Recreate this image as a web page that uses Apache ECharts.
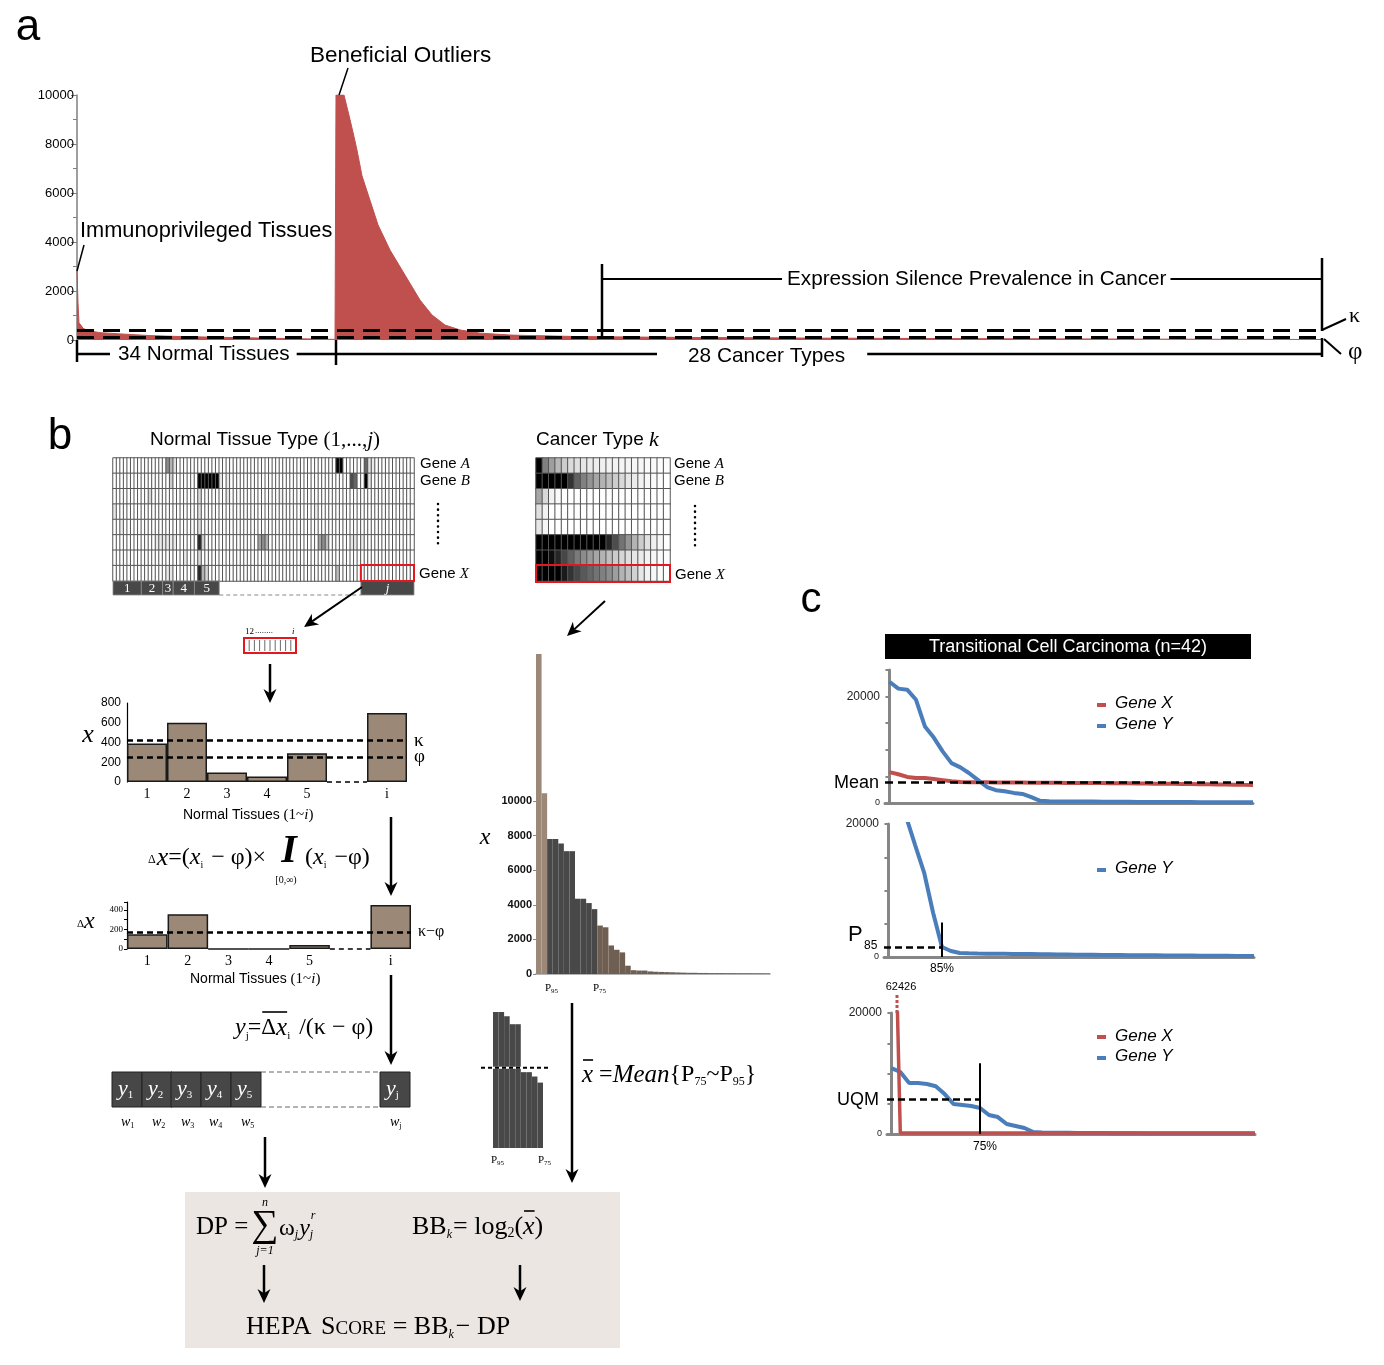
<!DOCTYPE html>
<html><head><meta charset="utf-8">
<script src="https://cdn.jsdelivr.net/npm/echarts@6/dist/echarts.min.js"></script>
<style>html,body{margin:0;padding:0;background:#fff}#c{width:1384px;height:1365px}</style>
</head><body><div id="c"></div>
<script>
// ===== DATA =====
// panel a: sorted expression profile (sample rank -> expression)
const normalRank = [0,2,4,8,12,22,46,86,146,206,286,366,446,516];
const normalExpr = [2850,1500,700,600,480,380,300,250,180,140,110,80,50,25];
const cancerRank = [518,534,540,546,554,560,570,586,602,626,656,686,710,736,766,806,868,1000,1178,1446,1846,2490];
const cancerExpr = [10000,10000,9500,9000,8300,7750,6700,5700,4700,3670,2650,1630,1020,610,410,280,200,140,110,80,50,20];
const totalRank = 2490;
const kappaA = 408, phiA = 122;
// panel b: heatmaps
const normalCols = 85;
const heatRows = ['Gene A','Gene B','g3','g4','g5','g6','g7','Gene X'];
const normalHeatSpots = [
 [15,0,0.45],[16,0,0.3],[17,0,0.12],[63,0,1],[64,0,1],[71,0,0.6],[72,0,0.12],[73,0,0.08],
 [16,1,0.2],[24,1,1],[25,1,1],[26,1,1],[27,1,1],[28,1,1],[29,1,1],[30,1,0.1],[32,1,0.08],[67,1,0.7],[68,1,0.6],[71,1,1],[72,1,0.1],
 [10,2,0.15],[24,2,0.15],[32,2,0.1],[47,2,0.06],
 [0,3,0.1],[24,3,0.12],[57,3,0.06],
 [2,4,0.08],[24,4,0.12],
 [12,5,0.08],[13,5,0.08],[14,5,0.08],[15,5,0.08],[16,5,0.08],[17,5,0.08],[24,5,0.85],[25,5,0.2],[41,5,0.35],[42,5,0.45],[43,5,0.3],[58,5,0.35],[59,5,0.45],[60,5,0.25],[67,5,0.1],[68,5,0.1],[70,5,0.08],
 [20,6,0.08],[24,6,0.15],
 [15,7,0.08],[16,7,0.1],[24,7,0.85],[25,7,0.3],[26,7,0.15],[63,7,0.25]
];
const tissueSegCols = [0,8,14,17,23,30];
const tissueSegLabels = ['1','2','3','4','5'];
const tissueJCols = [70,85];
const cancerHeat = [
 [1,0.5,0.38,0.28,0.2,0.14,0.12,0.1,0.08,0.07,0.06,0.05,0.05,0.04,0.04,0.03,0.03,0.02,0.02,0.01,0.01],
 [1,1,1,1,1,0.8,0.62,0.5,0.42,0.35,0.3,0.25,0.2,0.15,0.1,0.08,0.05,0.03,0.02,0.01,0],
 [0.35,0.15,0.05,0.02,0,0,0,0,0,0,0,0,0,0,0,0,0,0,0,0,0],
 [0.12,0.05,0,0,0,0,0,0,0,0,0,0,0,0,0,0,0,0,0,0,0],
 [0.1,0.04,0,0,0,0,0,0,0,0,0,0,0,0,0,0,0,0,0,0,0],
 [1,1,1,1,1,1,1,1,1,1,1,0.85,0.7,0.55,0.42,0.3,0.2,0.12,0.06,0.03,0],
 [1,1,0.95,0.85,0.72,0.62,0.52,0.45,0.4,0.35,0.3,0.25,0.2,0.16,0.13,0.1,0.08,0.05,0.03,0.02,0.01],
 [1,1,1,1,0.9,0.8,0.72,0.65,0.6,0.55,0.5,0.45,0.38,0.3,0.25,0.18,0.1,0.05,0.03,0.01,0]
];
// panel b: bar charts
const tissueLabels = ['1','2','3','4','5','','i'];
const xValues = [390,600,95,55,290,'-',700];
const kappaB = 420, phiB = 255;
const dxValues = [150,355,0,0,40,'-',450];
const kappaMinusPhi = 175;
const cancerSorted = [18500,10450,7800,7800,7550,7100,7100,4350,4350,4100,3750,2800,2700,1650,1400,1250,480,220,200,200,150,130,120,110,100,90,80,70,70,60,60,50,50,50,45,45,40,40,40,35,35,30];
const p95Idx = 2, p75Idx = 11;
const meanP75P95 = 4600;
// panel c
const c1GeneX = [5800,5400,4900,4700,4700,4500,4300,4100,3950,3900,3900,3880,3860,3850,3840,3830,3820,3810,3800,3790,3780,3770,3760,3750,3740,3720,3700,3690,3680,3660,3640,3620,3600,3580,3560,3540,3520,3500,3480,3450,3420,3400];
const c1GeneY = [22800,21500,21300,19400,14400,12300,9700,7500,6700,5600,4300,3000,2400,2200,1900,1700,1100,400,320,300,290,280,270,260,250,240,230,220,210,200,190,180,175,170,165,160,155,150,145,140,135,130];
const c1Mean = 3900;
const c2GeneY = [35000,28000,21000,16800,12700,6700,1500,900,600,550,520,500,480,470,460,450,440,420,400,380,360,340,330,320,310,300,290,280,270,260,250,240,230,220,210,200,190,180,170,160,155,150];
const c2P85 = 1500, c2P85Idx = 6, c2VTop = 5200;
const c3GeneX = [62426,160,155,150,150,150,150,150,150,150,150,150,150,150,150,150,150,150,150,150,150,150,150,150,150,150,150,150,150,150,150,150,150,150,150,150,150,150,150,150,150,150];
const c3GeneY = [10900,10250,8430,8430,8260,7900,6600,4960,4800,4630,4300,3140,2800,1650,1320,990,330,250,220,200,190,180,170,160,150,140,130,120,110,100,100,100,90,90,90,80,80,80,70,70,70,60];
const c3UQM = 5780, c3Q75Idx = 10, c3VTop = 11700;

// ===== helpers =====
const SANS = '"Liberation Sans", Arial, sans-serif';
const SERIF = '"Liberation Serif", "Times New Roman", serif';
const RED = '#c0504d', BLUE = '#4a7ebb';
const mctx = document.createElement('canvas').getContext('2d');
const G = [];
function T(x,y,s,size,f='',align='left',va='middle'){
  const font=(f.includes('i')?'italic ':'')+(f.includes('b')?'bold ':'')+size+'px '+(f.includes('s')?SERIF:SANS);
  G.push({type:'text',x,y,z:120,silent:true,style:{text:s,font,fill:f.includes('w')?'#fff':'#000',align,verticalAlign:va,textAlign:align,textVerticalAlign:va}});
  mctx.font=font; return mctx.measureText(s).width;
}
function S(x,y,parts){ let cx=x; for(const p of parts){ const [s,size,f='',dx=0,dy=0]=p; cx+=dx; cx+=T(cx,y+dy,s,size,f);} return cx; }
function L(x1,y1,x2,y2,w=2,c='#000',dash=null,cap='butt'){ G.push({type:'line',z:110,silent:true,shape:{x1,y1,x2,y2},style:{stroke:c,lineWidth:w,lineDash:dash,lineCap:cap}}); }
function R(x,y,w,h,fill,stroke=null,lw=1,z=100){ G.push({type:'rect',z,silent:true,shape:{x,y,width:w,height:h},style:{fill:fill||'none',stroke,lineWidth:lw}}); }
function A(x1,y1,x2,y2,w=2.5,hl=14,hw=6.5){
  const dx=x2-x1,dy=y2-y1,len=Math.hypot(dx,dy),ux=dx/len,uy=dy/len;
  const bx=x2-ux*hl,by=y2-uy*hl,nx=bx+ux*hl*0.3,ny=by+uy*hl*0.3;
  L(x1,y1,nx,ny,w);
  G.push({type:'polygon',z:111,silent:true,shape:{points:[[x2,y2],[bx-uy*hw,by+ux*hw],[nx,ny],[bx+uy*hw,by-ux*hw]]},style:{fill:'#000'}});
}

// ===== panel a annotations =====
T(28,28,'a',44,'','center');
T(310,56,'Beneficial Outliers',22.5); L(348,68,339,95,1.5);
T(80,231,'Immunoprivileged Tissues',21.8); L(84,245,77,271,1.5);
L(602,264,602,337,2.5); L(602,279,782,279,2);
{ const w=T(787,279,'Expression Silence Prevalence in Cancer',20.7); L(787+w+4,279,1322,279,2); }
L(1322,258,1322,331,2.5);
L(77,340,77,362,2.5); L(77,354,110,354,2.5);
{ const w=T(118,354,'34 Normal Tissues',20.7); L(118+w+7,354,336,354,2.5); }
L(336,340,336,365,2.5); L(336,354,657,354,2.5);
{ const w=T(688,356,'28 Cancer Types',20.8); L(688+w+22,354,1322,354,2.5); }
L(1322,338,1322,357,2.5);
L(1322,330,1346,319,2); T(1349,316,'κ',22,'s');
L(1324,339,1341,354,2); T(1348,352,'φ',25,'s');

// ===== panel b annotations =====
T(60,437,'b',44,'','center');
S(150,440,[['Normal Tissue Type ',19],['(1,...,',21,'s'],['j',21,'si'],[')',21,'s']]);
S(536,440,[['Cancer Type ',19],['k',22,'si']]);
const hx0=113, hw=301/normalCols;
tissueSegLabels.forEach((lab,i)=>{ const a=hx0+tissueSegCols[i]*hw, b=hx0+tissueSegCols[i+1]*hw; R(a,581,b-a,14,'#484848','#8a8a8a',0.8); T((a+b)/2,588.5,lab,13,'sw','center'); });
{ const a=hx0+tissueJCols[0]*hw, b=hx0+tissueJCols[1]*hw; R(a,581,b-a,14,'#484848','#8a8a8a',0.8); T((a+b)/2,588.5,'j',13,'siw','center');
  L(hx0+tissueSegCols[5]*hw,595,a,595,1,'#888',[4,3]); R(a,565,b-a,16,'none','#e3171d',2); }
S(420,464,[['Gene ',15],['A',15,'si']]); S(420,481,[['Gene ',15],['B',15,'si']]);
L(438,504,438,546,2.5,'#000',[0.1,5.5],'round');
S(419,574,[['Gene ',15],['X',15,'si']]);
S(674,464,[['Gene ',15],['A',15,'si']]); S(674,481,[['Gene ',15],['B',15,'si']]);
L(695,506,695,548,2.5,'#000',[0.1,5.5],'round');
S(675,575,[['Gene ',15],['X',15,'si']]);
R(536,565,134,17,'none','#e3171d',2);
A(362,587,304,627,2);
R(244,638,52,15,'none','#e3171d',2);
for(let k=1;k<10;k++) L(244+k*5.2,640,244+k*5.2,651,0.8,'#444');
T(245,632,'12',9,'s'); T(255,631,'........',9,'s'); T(292,632,'i',9,'si');
A(270,664,270,703,2.5);
T(88,735,'x',26,'si','center');
S(183,815,[['Normal Tissues ',14],['(1~',15,'s'],['i',15,'si'],[')',15,'s']]);
A(391,817,391,896,2.5);
// formula 1
S(148,858,[['Δ',12,'s',0,2],['x',26,'si',1],['=(',24,'s'],['x',24,'si'],['i',10,'s',0,7],[' − φ)×',24,'s',2]]);
T(289,852,'I',40,'sib','center'); T(286,880,'[0,∞)',10,'s','center');
S(305,858,[['(',24,'s'],['x',24,'si'],['i',10,'s',0,7],[' −φ)',24,'s',2]]);
// bar chart 2 labels
S(77,922,[['Δ',11,'s',0,2],['x',24,'si']]);
S(190,979,[['Normal Tissues ',14],['(1~',15,'s'],['i',15,'si'],[')',15,'s']]);
A(391,975,391,1065,2.5);
// formula 2
{ let cx=S(235,1028,[['y',24,'si'],['j',11,'s',0,8],['=',24,'s',-1]]); const ox=cx;
  cx=S(cx,1028,[['Δ',23,'s'],['x',25,'si']]); L(ox+1,1012,cx,1012,1.6);
  S(cx,1028,[['i',11,'s',0,8],['/(κ − φ)',24,'s',9]]); }
// y boxes
const yBoxes=[[112,'1'],[142,'2'],[171,'3'],[201,'4'],[231,'5']];
yBoxes.forEach(([x,s])=>{ R(x,1072,30,35,'#474747','#222',1); S(x+6,1089,[['y',22,'siw'],[s,11,'sw',0,6]]); });
R(380,1072,30,35,'#474747','#222',1); S(386,1089,[['y',22,'siw'],['j',11,'sw',0,6]]);
L(261,1072,380,1072,1,'#666',[5,3]); L(261,1107,380,1107,1,'#666',[5,3]);
[[121,'1'],[152,'2'],[181,'3'],[209,'4'],[241,'5'],[390,'j']].forEach(([x,s])=>S(x,1122,[['w',14,'si'],[s,8,'s',0,4]]));
A(265,1137,265,1188,2.5);
// bottom box
R(185,1192,435,156,'#ebe6e1',null,0,5);
S(196,1227,[['DP =',25,'s']]);
T(265,1226,'∑',38,'s','center'); T(265,1203,'n',12,'si','center'); T(265,1251,'j=1',12,'si','center');
{ const cx=S(279,1229,[['ω',24,'s'],['j',12,'si',0,6],['y',24,'si',1]]);
  S(cx,1235,[['j',12,'si']]); T(cx+1,1216,'r',12,'si'); }
{ let cx=S(412,1227,[['BB',26,'s'],['k',12,'si',0,8],['= log',26,'s',1],['2',14,'s',0,6],['(',26,'s']]); const ox=cx;
  cx=S(cx,1227,[['x',26,'si']]); L(ox+1,1211,cx,1211,1.6); S(cx,1227,[[')',26,'s']]); }
A(264,1265,264,1303,2.5); A(520,1265,520,1301,2.5);
S(246,1327,[['HEPA ',26,'s'],['S',26,'s',3],['CORE',19,'s',0,2],[' = BB',26,'s'],['k',12,'si',0,8],['− DP',26,'s',2]]);
// cancer sorted chart labels
A(605,601,567,636,2);
T(485,838,'x',24,'si','center');
S(545,988,[['P',11,'s'],['95',7,'s',0,3]]); S(593,988,[['P',11,'s'],['75',7,'s',0,3]]);
S(491,1160,[['P',11,'s'],['95',7,'s',0,3]]); S(538,1160,[['P',11,'s'],['75',7,'s',0,3]]);
{ const my=1012+136*(1-meanP75P95/cancerSorted[p95Idx]); L(481,my,548,my,2,'#fff'); L(481,my,548,my,2,'#000',[4,3]); }
A(572,1003,572,1183,2.5);
{ let cx=S(582,1075,[['x',25,'si']]); L(583,1060,cx,1060,1.6);
  S(cx,1075,[[' =',24,'s'],['Mean',25,'si'],['{P',24,'s'],['75',12,'s',0,7],['~P',24,'s'],['95',12,'s',0,7],['}',24,'s']]); }

// ===== panel c annotations =====
T(811,600,'c',42,'','center');
R(885,634,366,25,'#000',null,0,100);
T(1068,647,'Transitional Cell Carcinoma (n=42)',18,'w','center');
T(879,783,'Mean',18,'','right');
L(1097,705,1106,705,4,RED); T(1115,703,'Gene X',17,'i');
L(1097,726,1106,726,4,BLUE); T(1115,724,'Gene Y',17,'i');
L(1097,870,1106,870,4,BLUE); T(1115,868,'Gene Y',17,'i');
T(848,935,'P',22); T(864,946,'85',12);
T(942,969,'85%',12,'','center');
T(901,987,'62426',11,'','center');
L(897,995,897,1013,3,RED,[3,2]);
T(879,1100,'UQM',18,'','right');
T(985,1147,'75%',12,'','center');
L(1097,1037,1106,1037,4,RED); T(1115,1036,'Gene X',17,'i');
L(1097,1058,1106,1058,4,BLUE); T(1115,1056,'Gene Y',17,'i');

// ===== build series data =====
const areaData = normalRank.map((r,i)=>[r,normalExpr[i]]).concat(cancerRank.map((r,i)=>[r,cancerExpr[i]]));
const normalHeatData = [];
const spotMap = {}; normalHeatSpots.forEach(([c,r,v])=>spotMap[c+'_'+r]=v);
for(let r=0;r<heatRows.length;r++) for(let c=0;c<normalCols;c++) normalHeatData.push([c,r,spotMap[c+'_'+r]||0]);
const cancerHeatData = [];
cancerHeat.forEach((row,r)=>row.forEach((v,c)=>cancerHeatData.push([c,r,v])));
const sortedBars = cancerSorted.map((v,i)=>({value:v,itemStyle:{color: i<p95Idx?'#9b8877':(i<p75Idx?'#484848':'#6f5f52')}}));
const idx = a => a.map((v,i)=>[i,v]);
const range = n => Array.from({length:n},(_,i)=>String(i));
const plain = v => String(v);

const cAxisX = gi => ({gridIndex:gi,type:'value',min:-0.5,max:41,axisLine:{show:true,onZero:false,lineStyle:{color:'#868686',width:3}},axisTick:{show:false},axisLabel:{show:false},splitLine:{show:false}});
const cAxisY = (gi,max) => ({gridIndex:gi,type:'value',min:0,max,interval:5000,axisLine:{show:true,lineStyle:{color:'#868686',width:3}},axisTick:{show:true,length:4,lineStyle:{color:'#868686',width:2}},splitLine:{show:false},
  axisLabel:{fontFamily:SANS,fontSize:12,color:'#222',margin:5,formatter:v=>v===20000?'20000':(v===0?'{s|0}':''),rich:{s:{fontSize:9,fontFamily:SANS,color:'#222'}}}});
const barX = gi => ({gridIndex:gi,type:'category',data:tissueLabels,axisLine:{show:false},axisTick:{show:false},axisLabel:{fontFamily:SERIF,fontSize:14,color:'#000',margin:5}});
const mlDash = {type:[6,4],width:2.5,color:'#000'};

const option = {
  animation:false,
  backgroundColor:'#fff',
  grid:[
    {left:77,top:95,width:1245,height:245},
    {left:113,top:458,width:301,height:123},
    {left:536,top:458,width:134,height:123},
    {left:127,top:703,width:280,height:79},
    {left:127,top:902,width:284,height:47},
    {left:536,top:801,width:234,height:173},
    {left:493,top:1012,width:50,height:136},
    {left:885,top:670,width:368,height:133},
    {left:884,top:824,width:370,height:133},
    {left:887,top:1013,width:368,height:121}
  ],
  xAxis:[
    {gridIndex:0,type:'value',min:0,max:totalRank,show:false},
    {gridIndex:1,type:'category',data:range(normalCols),show:false},
    {gridIndex:2,type:'category',data:range(cancerHeat[0].length),show:false},
    barX(3), barX(4),
    {gridIndex:5,type:'category',data:range(cancerSorted.length),axisLine:{lineStyle:{color:'#9a9a9a',width:1.5}},axisTick:{show:false},axisLabel:{show:false}},
    {gridIndex:6,type:'category',data:range(p75Idx-p95Idx),show:false},
    cAxisX(7), cAxisX(8), cAxisX(9)
  ],
  yAxis:[
    {gridIndex:0,type:'value',min:0,max:10000,interval:2000,axisLine:{show:true,lineStyle:{color:'#7f7f7f',width:1.5}},axisTick:{show:true,length:6,lineStyle:{color:'#7f7f7f'}},minorTick:{show:true,splitNumber:2,length:4,lineStyle:{color:'#7f7f7f'}},splitLine:{show:false},axisLabel:{fontFamily:SANS,fontSize:13,color:'#000',margin:3,formatter:plain}},
    {gridIndex:1,type:'category',data:heatRows,inverse:true,show:false},
    {gridIndex:2,type:'category',data:heatRows,inverse:true,show:false},
    {gridIndex:3,type:'value',min:0,max:800,interval:200,axisLine:{show:true,lineStyle:{color:'#000',width:1.2}},axisTick:{show:false},splitLine:{show:false},axisLabel:{fontFamily:SANS,fontSize:12,color:'#000',margin:6,formatter:plain}},
    {gridIndex:4,type:'value',min:0,max:480,interval:100,axisLine:{show:true,lineStyle:{color:'#000',width:1.2}},axisTick:{show:true,length:3,lineStyle:{color:'#000'}},splitLine:{show:false},axisLabel:{fontFamily:SERIF,fontSize:9,color:'#000',margin:4,formatter:v=>(v%200===0&&v<=400)?String(v):''}},
    {gridIndex:5,type:'value',min:0,max:10000,interval:2000,axisLine:{show:false},axisTick:{show:true,length:3,lineStyle:{color:'#888'}},splitLine:{show:false},axisLabel:{fontFamily:SANS,fontSize:11,fontWeight:'bold',color:'#111',margin:4,formatter:plain}},
    {gridIndex:6,type:'value',min:0,max:cancerSorted[p95Idx],show:false},
    cAxisY(7,25000), cAxisY(8,20000), cAxisY(9,20000)
  ],
  visualMap:{type:'continuous',min:0,max:1,seriesIndex:[1,2],show:false,inRange:{color:['#ffffff','#000000']}},
  series:[
    {type:'line',xAxisIndex:0,yAxisIndex:0,data:areaData,showSymbol:false,symbol:'none',lineStyle:{width:1,color:RED},areaStyle:{color:RED,opacity:1},
     markLine:{symbol:'none',silent:true,label:{show:false},lineStyle:{type:[17,9],width:3.2,color:'#000'},data:[{yAxis:kappaA},{yAxis:phiA}]}},
    {type:'heatmap',xAxisIndex:1,yAxisIndex:1,data:normalHeatData,itemStyle:{borderColor:'#555',borderWidth:1}},
    {type:'heatmap',xAxisIndex:2,yAxisIndex:2,data:cancerHeatData,itemStyle:{borderColor:'#555',borderWidth:1}},
    {type:'bar',xAxisIndex:3,yAxisIndex:3,data:xValues,barCategoryGap:'0%',itemStyle:{color:'#9b8877',borderColor:'#1a1a1a',borderWidth:1.5},
     markLine:{symbol:'none',silent:true,lineStyle:mlDash,label:{show:true,position:'end',distance:7,fontFamily:SERIF,fontSize:19,color:'#000'},
       data:[{yAxis:kappaB,label:{formatter:'κ'}},{yAxis:phiB,label:{formatter:'φ'}}]}},
    {type:'bar',xAxisIndex:4,yAxisIndex:4,data:dxValues,barCategoryGap:'0%',itemStyle:{color:'#9b8877',borderColor:'#1a1a1a',borderWidth:1.5},
     markLine:{symbol:'none',silent:true,lineStyle:mlDash,label:{show:true,position:'end',distance:7,fontFamily:SERIF,fontSize:16,color:'#000'},
       data:[{yAxis:kappaMinusPhi,label:{formatter:'κ−φ'}}]}},
    {type:'bar',xAxisIndex:5,yAxisIndex:5,data:sortedBars,barCategoryGap:'0%',clip:false},
    {type:'bar',xAxisIndex:6,yAxisIndex:6,data:cancerSorted.slice(p95Idx,p75Idx),barCategoryGap:'0%',itemStyle:{color:'#484848'}},
    {type:'line',xAxisIndex:7,yAxisIndex:7,data:idx(c1GeneX),symbol:'none',lineStyle:{width:4,color:RED},z:3},
    {type:'line',xAxisIndex:7,yAxisIndex:7,data:idx(c1GeneY),symbol:'none',lineStyle:{width:4,color:BLUE},z:4,
     markLine:{symbol:'none',silent:true,label:{show:false},lineStyle:{type:[8,5],width:2.5,color:'#000'},data:[{yAxis:c1Mean}]}},
    {type:'line',xAxisIndex:8,yAxisIndex:8,data:idx(c2GeneY),symbol:'none',lineStyle:{width:4,color:BLUE},
     markLine:{symbol:'none',silent:true,label:{show:false},data:[
       [{coord:[-0.5,c2P85],lineStyle:{type:[7,4],width:2.5,color:'#000'}},{coord:[c2P85Idx,c2P85]}],
       [{coord:[c2P85Idx,0],lineStyle:{type:'solid',width:2,color:'#000'}},{coord:[c2P85Idx,c2VTop]}]]}},
    {type:'line',xAxisIndex:9,yAxisIndex:9,data:idx(c3GeneY),symbol:'none',lineStyle:{width:4,color:BLUE},z:3},
    {type:'line',xAxisIndex:9,yAxisIndex:9,data:idx(c3GeneX),symbol:'none',lineStyle:{width:3.5,color:RED},z:4,
     markLine:{symbol:'none',silent:true,label:{show:false},data:[
       [{coord:[-0.5,c3UQM],lineStyle:{type:[7,4],width:2.5,color:'#000'}},{coord:[c3Q75Idx,c3UQM]}],
       [{coord:[c3Q75Idx,0],lineStyle:{type:'solid',width:2,color:'#000'}},{coord:[c3Q75Idx,c3VTop]}]]}}
  ],
  graphic:{elements:G}
};
const chart = echarts.init(document.getElementById('c'),null,{width:1384,height:1365});
chart.setOption(option);
// dashed baselines for the empty category in the two bar charts
const ext=[];
[3,4].forEach(si=>{
  const p1=chart.convertToPixel({seriesIndex:si},[4,0]), p2=chart.convertToPixel({seriesIndex:si},[6,0]);
  const half=(p2[0]-p1[0])/4;
  ext.push({type:'line',z:110,silent:true,shape:{x1:p1[0]+half,y1:p1[1],x2:p2[0]-half,y2:p1[1]},style:{stroke:'#000',lineWidth:1.5,lineDash:[5,4]}});
});
chart.setOption({graphic:{elements:G.concat(ext)}});
</script></body></html>
